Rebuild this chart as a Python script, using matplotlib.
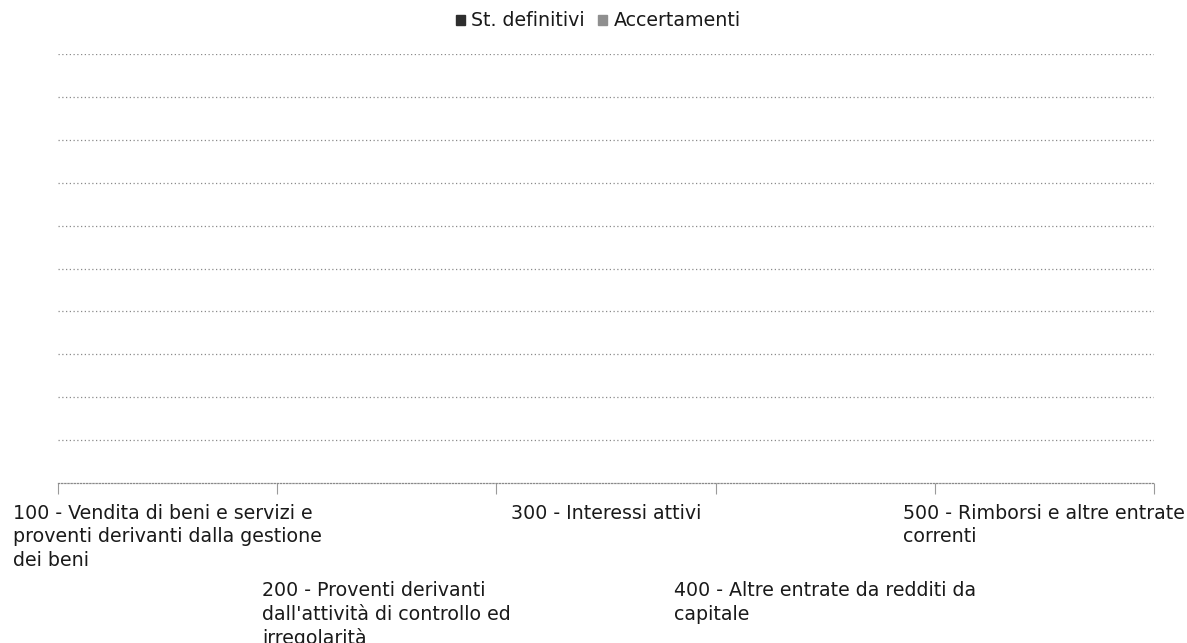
import matplotlib
matplotlib.use("Agg")
import matplotlib.pyplot as plt
from matplotlib.patches import Patch
from matplotlib.transforms import blended_transform_factory
import numpy as np

# ---- data ----
categories = [
    "100 - Vendita di beni e servizi e\nproventi derivanti dalla gestione\ndei beni",
    "200 - Proventi derivanti\ndall'attività di controllo ed\nirregolarità",
    "300 - Interessi attivi",
    "400 - Altre entrate da redditi da\ncapitale",
    "500 - Rimborsi e altre entrate\ncorrenti",
]
st_definitivi = [0, 0, 0, 0, 0]
accertamenti = [0, 0, 0, 0, 0]
series_names = ["St. definitivi", "Accertamenti"]
y_ticks = [1, 2, 3, 4, 5, 6, 7, 8, 9, 10]

plt.rcParams['font.family'] = ['DejaVu Sans']
W, H = 1187, 643
fig = plt.figure(figsize=(W / 100, H / 100), dpi=100)

left_px, right_px, top_px, bot_px = 58, 1154, 54, 483
ax = fig.add_axes([left_px / W, (H - bot_px) / H, (right_px - left_px) / W, (bot_px - top_px) / H])

x = np.arange(len(categories))
bw = 0.3
c1, c2 = "#2e2e2e", "#8f8f8f"
ax.bar(x - bw / 2, st_definitivi, bw, color=c1)
ax.bar(x + bw / 2, accertamenti, bw, color=c2)

ax.set_xlim(-0.5, len(categories) - 0.5)
ax.set_ylim(0, 10)
ax.set_yticks(y_ticks)
ax.yaxis.set_tick_params(length=0, labelleft=False)
ax.grid(axis='y', color='#8a8a8a', linestyle=(0, (1, 2)), linewidth=0.9)
ax.set_axisbelow(True)

for s in ['left', 'right', 'top']:
    ax.spines[s].set_visible(False)
ax.spines['bottom'].set_color('#8a8a8a')
ax.spines['bottom'].set_linestyle((0, (1, 1.5)))
ax.spines['bottom'].set_linewidth(0.9)

# category boundary ticks
ax.set_xticks(np.arange(len(categories) + 1) - 0.5)
ax.tick_params(axis='x', direction='out', length=8, width=0.8, color='#9a9a9a', labelbottom=False)

# staggered category labels
trans = blended_transform_factory(ax.transData, fig.transFigure)
row_tops = [504, 581]
for i, lab in enumerate(categories):
    ytop = row_tops[i % 2]
    ax.text(x[i], (H - ytop) / H, lab, transform=trans, ha='center', va='top',
            multialignment='left', fontsize=13.7, color='#1a1a1a', linespacing=1.3,
            family='DejaVu Sans')

handles = [Patch(facecolor=c1, edgecolor=c1, hatch='....'), Patch(facecolor=c2, edgecolor=c2)]
fig.legend(handles, series_names, loc='center', bbox_to_anchor=(598.5 / W, 1 - 21 / H), ncol=2,
           frameon=False, prop={'family': 'DejaVu Sans', 'size': 13.7},
           handlelength=0.45, handleheight=0.45,
           handletextpad=0.35, columnspacing=0.7, labelcolor='#1a1a1a')

fig.savefig("out.png", dpi=100)
